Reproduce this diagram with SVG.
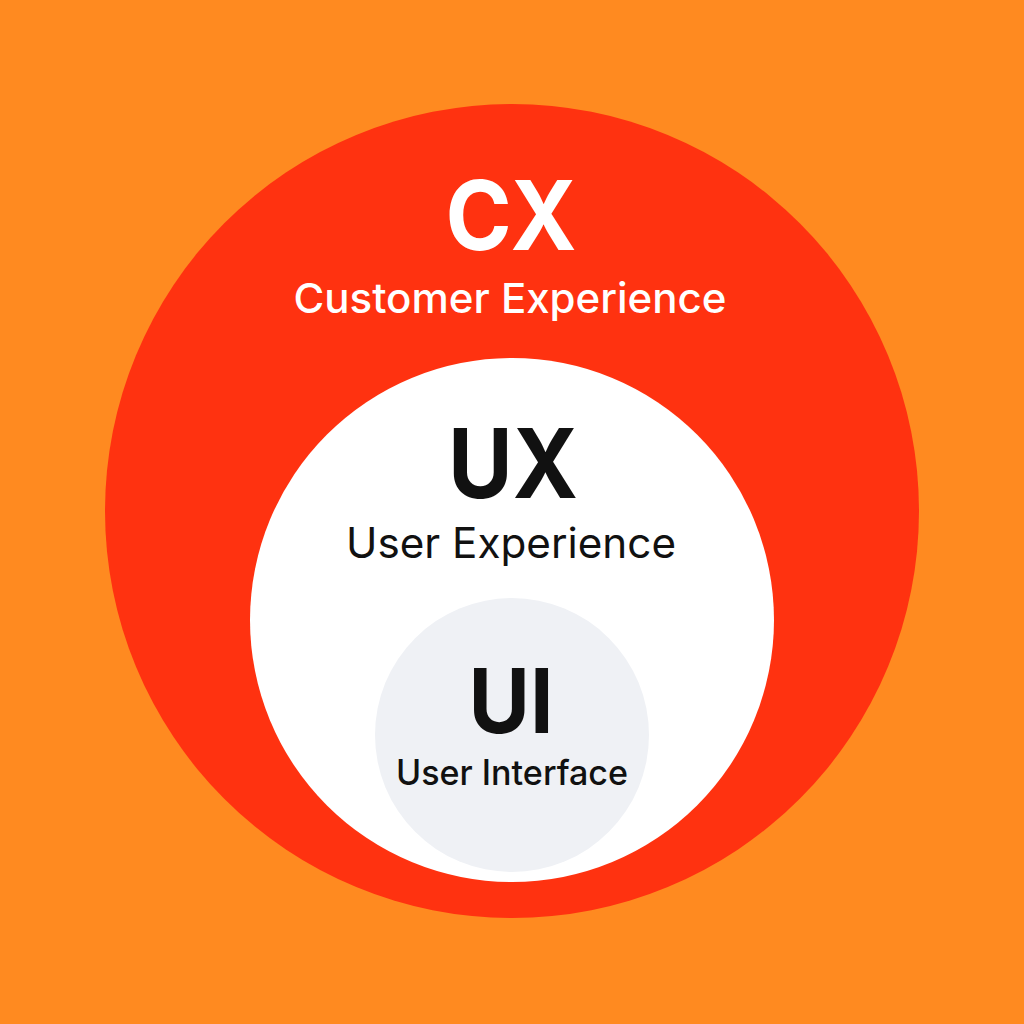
<svg xmlns="http://www.w3.org/2000/svg" width="1024" height="1024" viewBox="0 0 1024 1024">
<style>
.t{font-family:Inter,"Noto Sans","Liberation Sans",sans-serif;text-anchor:middle}
.big{font-weight:700}
.w{fill:#ffffff}
.k{fill:#111111}
</style>
<rect width="1024" height="1024" fill="#FF8A20"/>
<g id="cx">
<circle cx="512" cy="511" r="407" fill="#FF3210"/>
<text class="t big w" x="511" y="250" font-size="96" font-weight="600" textLength="131" lengthAdjust="spacingAndGlyphs">CX</text>
<text class="t w" x="510" y="313" font-size="41" font-weight="500" textLength="433" lengthAdjust="spacingAndGlyphs">Customer Experience</text>
</g>
<g id="ux">
<circle cx="512" cy="620" r="262" fill="#FFFFFF"/>
<text class="t big k" x="513" y="498" font-size="96" font-weight="650" textLength="130" lengthAdjust="spacingAndGlyphs">UX</text>
<text class="t k" x="511" y="558" font-size="42" font-weight="400" textLength="330" lengthAdjust="spacingAndGlyphs">User Experience</text>
</g>
<g id="ui">
<circle cx="512" cy="735" r="137" fill="#EFF1F5"/>
<text class="t big k" x="511" y="733" font-size="90" font-weight="650" textLength="85" lengthAdjust="spacingAndGlyphs">UI</text>
<text class="t k" x="512" y="785" font-size="35" font-weight="500" textLength="232" lengthAdjust="spacingAndGlyphs">User Interface</text>
</g>
<g id="connectors"/>
</svg>
